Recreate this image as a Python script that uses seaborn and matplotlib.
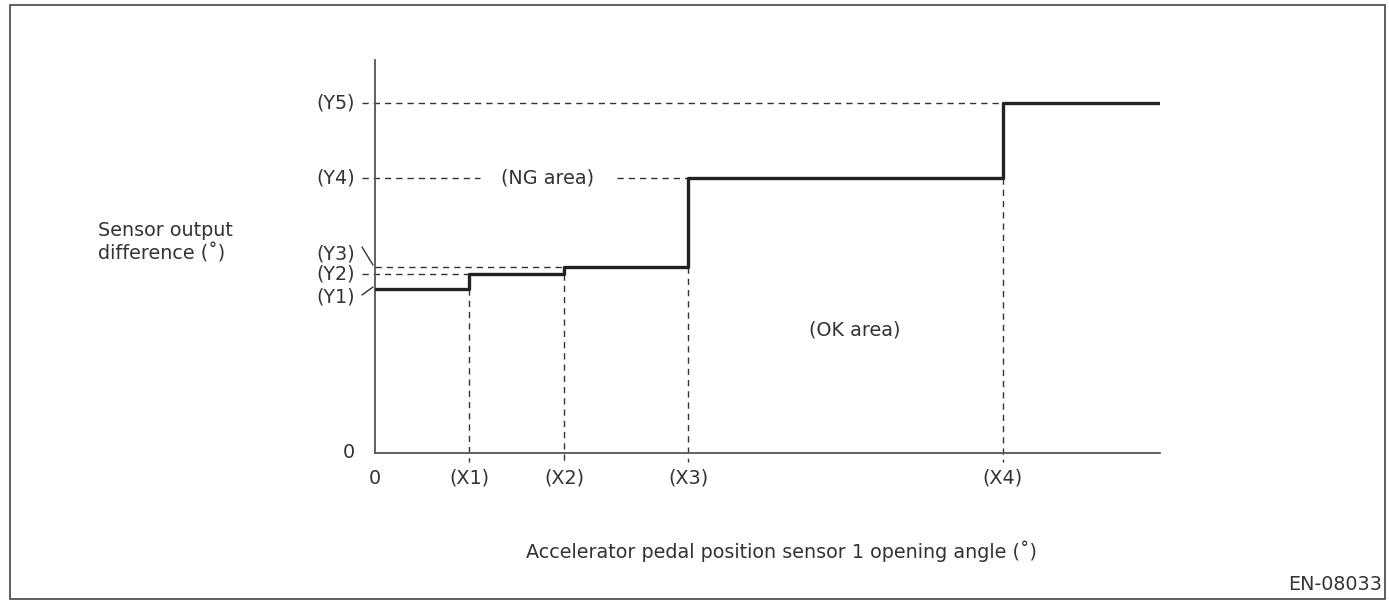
import matplotlib.pyplot as plt
import seaborn as sns
import pandas as pd
from matplotlib.patches import Rectangle

# Breakpoints on the pedal angle axis (arbitrary units)
x_labels = ["(X1)", "(X2)", "(X3)", "(X4)"]
x_points = [94, 189, 313, 628]
x_end = 785

# Threshold levels on the output difference axis
y_labels = ["(Y1)", "(Y2)", "(Y3)", "(Y4)", "(Y5)"]
y_points = [164, 179, 186, 275, 350]
y_top = 393

sns.set_style("white")
plt.rcParams["font.family"] = ["DejaVu Sans"]
plt.rcParams["font.size"] = 13.8

ink = "#333333"
line = "#222222"

# step line: level Y(i) holds from X(i-1) to X(i)
df = pd.DataFrame({
    "x": [0] + x_points + [x_end],
    "y": y_points + [y_points[-1]],
})

fig = plt.figure(figsize=(13.89, 6), dpi=100)
ax = fig.add_axes([375 / 1389, 147 / 600, 785 / 1389, 393 / 600])

sns.lineplot(data=df, x="x", y="y", drawstyle="steps-post", color=line,
             linewidth=2.4, ax=ax, zorder=5)

ax.set_xlim(0, x_end)
ax.set_ylim(0, y_top)
sns.despine(ax=ax)
for s in ["left", "bottom"]:
    ax.spines[s].set_color("#555555")
    ax.spines[s].set_linewidth(1.3)
ax.set_xticks([])
ax.set_yticks([])
ax.set_xlabel("")
ax.set_ylabel("")

dash = dict(color=ink, linewidth=1.0, dashes=(4.5, 3.6), clip_on=False)

# vertical guides from each step down past the axis
for xv, yv in zip(x_points, y_points):
    ax.plot([xv, xv], [yv, -9], **dash)

# horizontal guides
ax.plot([-13, x_points[0]], [y_points[1]] * 2, **dash)
ax.plot([0, x_points[1]], [y_points[2]] * 2, **dash)
ax.plot([-13, 105], [y_points[3]] * 2, **dash)
ax.plot([242, x_points[2]], [y_points[3]] * 2, **dash)
ax.plot([-13, x_points[3]], [y_points[4]] * 2, **dash)

# leader strokes for Y1 and Y3
ax.plot([-13, -2], [158, 166], color=ink, linewidth=1.0, clip_on=False)
ax.plot([-13, -2], [206, 188], color=ink, linewidth=1.0, clip_on=False)

# y labels
y_text_pos = [156, 179, 199, 275, 350]
for lab, yv in zip(y_labels, y_text_pos):
    ax.text(-20, yv, lab, ha="right", va="center", color=ink)
ax.text(-20, 0, "0", ha="right", va="center", color=ink)

# x labels
ax.text(0, -25, "0", ha="center", va="center", color=ink)
for lab, xv in zip(x_labels, x_points):
    ax.text(xv, -25, lab, ha="center", va="center", color=ink)

ax.text(173, y_points[3], "(NG area)", ha="center", va="center", color=ink)
ax.text(480, 123, "(OK area)", ha="center", va="center", color=ink)

fig.text(98 / 1389, 1 - 231 / 600, "Sensor output", ha="left", va="center", color=ink)
fig.text(98 / 1389, 1 - 253 / 600, "difference (˚)", ha="left", va="center", color=ink)
fig.text(781 / 1389, 1 - 551 / 600,
         "Accelerator pedal position sensor 1 opening angle (˚)",
         ha="center", va="center", color=ink)
fig.text(1382 / 1389, 1 - 585 / 600, "EN-08033", ha="right", va="center", color=ink)

fig.patches.append(Rectangle((10 / 1389, 1 / 600), 1375 / 1389, 594 / 600,
                             transform=fig.transFigure, fill=False,
                             edgecolor="#444444", linewidth=1.2))

fig.savefig("out.png", dpi=100)
